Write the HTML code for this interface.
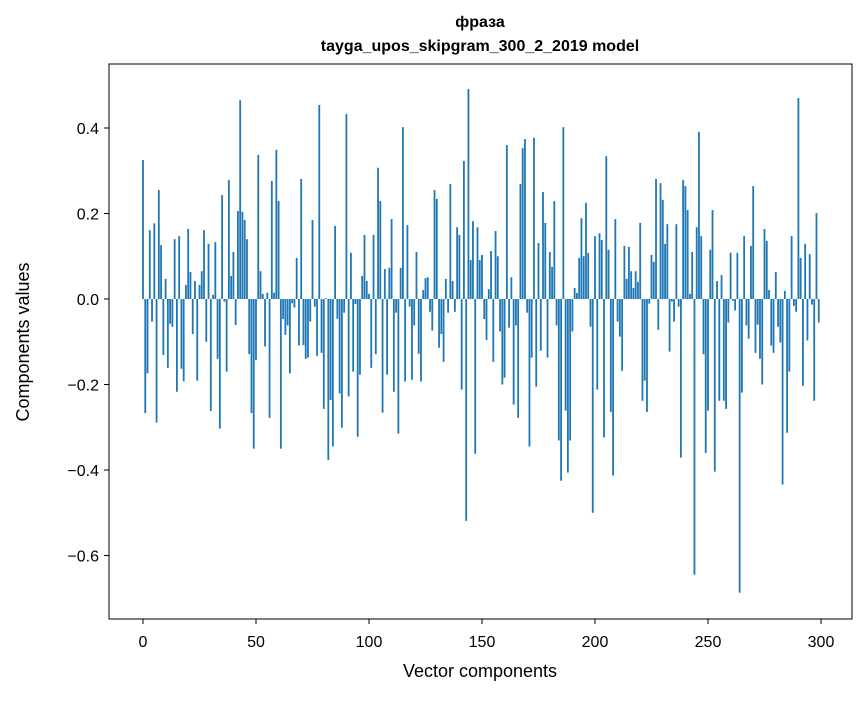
<!DOCTYPE html>
<html><head><meta charset="utf-8"><style>
body{margin:0;background:#fff;}
svg text{font-family:"Liberation Sans","DejaVu Sans",sans-serif;fill:#000;}
</style></head><body>
<svg id="chart" width="867" height="696" xmlns="http://www.w3.org/2000/svg">
<text x="480" y="27" text-anchor="middle" font-size="16" font-weight="bold">фраза</text>
<text x="480" y="51" text-anchor="middle" font-size="16" font-weight="bold">tayga_upos_skipgram_300_2_2019 model</text>
<g id="bars"></g>
<rect x="109" y="64" width="743" height="555" fill="none" stroke="#000" stroke-width="1"/>
<g id="xticks"></g>
<g id="yticks"></g>
<text x="480" y="677" text-anchor="middle" font-size="18">Vector components</text>
<text x="29" y="342" text-anchor="middle" font-size="18" transform="rotate(-90 29 342)">Components values</text>
</svg>
<script>
const values = [
0.325,-0.267,-0.174,0.161,-0.053,0.177,-0.289,0.255,0.126,-0.131,
0.047,-0.161,-0.058,-0.065,0.14,-0.217,0.147,-0.163,-0.193,0.033,
0.164,0.063,-0.082,0.042,-0.191,0.033,0.065,0.161,-0.1,0.129,
-0.262,0.01,0.133,-0.14,-0.303,0.243,-0.006,-0.17,0.278,0.054,
0.11,-0.061,0.206,0.465,0.204,0.185,0.14,-0.129,-0.267,-0.35,
-0.143,0.337,0.065,0.012,-0.111,0.015,-0.278,0.276,0.015,0.349,
0.229,-0.35,-0.047,-0.084,-0.062,-0.174,-0.01,-0.02,0.096,-0.109,
0.281,-0.108,-0.14,-0.137,-0.053,0.185,-0.018,-0.133,0.454,-0.126,
-0.257,0.002,-0.377,-0.236,-0.345,0.171,-0.046,-0.221,-0.301,-0.032,
0.433,-0.228,0.108,-0.17,-0.012,-0.322,-0.177,0.054,0.15,0.042,
0.012,-0.161,0.15,-0.129,0.307,0.229,-0.266,0.07,-0.177,0.073,
0.187,-0.217,-0.032,-0.315,0.073,0.402,-0.193,0.173,-0.018,-0.189,
-0.062,0.11,-0.128,-0.193,0.021,0.049,0.051,-0.03,-0.074,0.255,
0.234,-0.114,-0.082,-0.147,0.047,-0.032,0.269,0.042,-0.03,0.168,
0.15,-0.212,0.323,-0.519,0.491,0.091,0.182,-0.362,0.168,0.091,
0.103,-0.047,-0.096,0.023,0.112,-0.147,0.159,0.1,-0.076,-0.2,
-0.184,0.36,-0.067,0.051,-0.247,-0.062,-0.278,0.269,0.353,0.374,
-0.032,-0.345,-0.137,0.377,-0.205,0.131,-0.121,0.25,0.178,-0.137,
0.11,0.075,0.229,-0.062,-0.331,-0.425,0.402,-0.261,-0.406,-0.331,
-0.076,0.026,0.014,0.096,0.189,0.1,0.225,0.108,-0.065,-0.5,
0.147,-0.212,0.154,0.138,-0.324,0.334,0.115,-0.264,-0.413,0.187,
-0.053,-0.088,-0.168,0.124,0.047,0.122,0.065,0.026,0.065,0.04,
0.178,-0.238,-0.191,-0.264,-0.011,0.103,0.087,0.281,-0.072,0.271,
0.232,0.129,0.175,-0.123,-0.006,-0.053,0.175,-0.018,-0.371,0.278,
0.264,0.208,0.012,0.11,-0.645,0.168,0.391,0.147,-0.129,-0.36,
-0.261,0.115,0.208,-0.404,0.042,-0.238,0.056,-0.238,-0.257,-0.055,
0.108,-0.004,-0.027,0.108,-0.687,-0.219,0.147,-0.062,-0.093,0.124,
0.264,-0.126,-0.06,-0.14,-0.2,0.164,0.136,0.021,-0.109,-0.126,
0.063,-0.065,-0.102,-0.434,0.019,-0.313,-0.17,0.147,-0.016,-0.03,
0.47,0.096,-0.203,0.129,-0.097,0.105,-0.013,-0.238,0.201,-0.055
];
const xTickValues = [0,50,100,150,200,250,300];
const yTickValues = [-0.6,-0.4,-0.2,0.0,0.2,0.4];
const yTickLabels = ["\u22120.6","\u22120.4","\u22120.2","0.0","0.2","0.4"];

const NS = "http://www.w3.org/2000/svg";
function xScale(i){ return 143 + i * 2.26; }
function yScale(v){ return 299 - v * 427.5; }

const barsG = document.getElementById('bars');
values.forEach((v, i) => {
  const r = document.createElementNS(NS, 'rect');
  const w = 2.26 * 0.8;
  const y0 = yScale(0), y1 = yScale(v);
  r.setAttribute('x', xScale(i) - w / 2);
  r.setAttribute('y', Math.min(y0, y1));
  r.setAttribute('width', w);
  r.setAttribute('height', Math.abs(y1 - y0));
  r.setAttribute('fill', '#1f77b4');
  
  
  barsG.appendChild(r);
});

const xg = document.getElementById('xticks');
xTickValues.forEach(t => {
  const x = xScale(t);
  const l = document.createElementNS(NS, 'line');
  l.setAttribute('x1', x); l.setAttribute('x2', x);
  l.setAttribute('y1', 619); l.setAttribute('y2', 624);
  l.setAttribute('stroke', '#000');
  
  
  xg.appendChild(l);
  const tx = document.createElementNS(NS, 'text');
  tx.setAttribute('x', x); tx.setAttribute('y', 647);
  tx.setAttribute('text-anchor', 'middle'); tx.setAttribute('font-size', '16');
  tx.textContent = String(t);
  
  
  xg.appendChild(tx);
});

const yg = document.getElementById('yticks');
yTickValues.forEach((t, k) => {
  const y = yScale(t);
  const l = document.createElementNS(NS, 'line');
  l.setAttribute('x1', 104); l.setAttribute('x2', 109);
  l.setAttribute('y1', y); l.setAttribute('y2', y);
  l.setAttribute('stroke', '#000');
  
  
  yg.appendChild(l);
  const tx = document.createElementNS(NS, 'text');
  tx.setAttribute('x', 99); tx.setAttribute('y', y + 6);
  tx.setAttribute('text-anchor', 'end'); tx.setAttribute('font-size', '16');
  tx.textContent = yTickLabels[k];
  
  
  yg.appendChild(tx);
});
</script>
</body></html>
